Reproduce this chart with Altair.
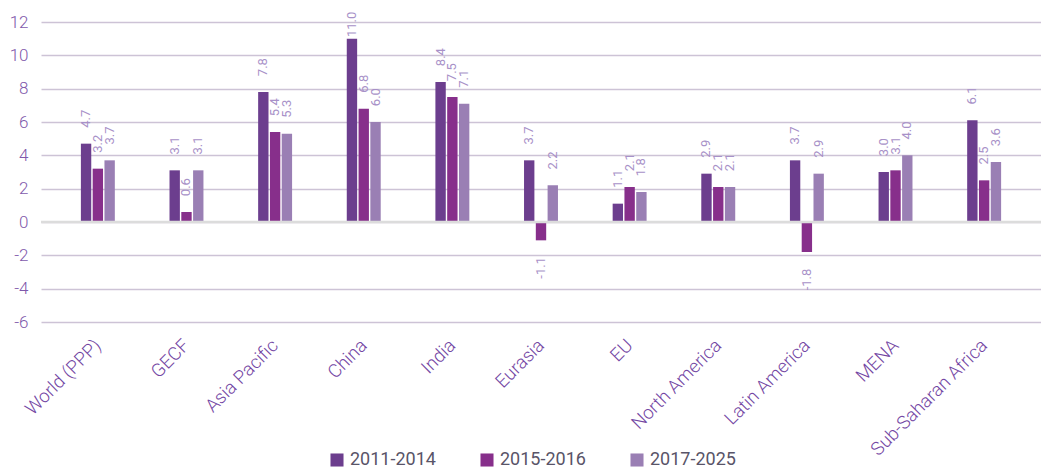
import altair as alt
import pandas as pd

categories = ["World (PPP)", "GECF", "Asia Pacific", "China", "India", "Eurasia",
              "EU", "North America", "Latin America", "MENA", "Sub-Saharan Africa"]
periods = ["2011-2014", "2015-2016", "2017-2025"]
v_2011_2014 = [4.7, 3.1, 7.8, 11.0, 8.4, 3.7, 1.1, 2.9, 3.7, 3.0, 6.1]
v_2015_2016 = [3.2, 0.6, 5.4, 6.8, 7.5, -1.1, 2.1, 2.1, -1.8, 3.1, 2.5]
v_2017_2025 = [3.7, 3.1, 5.3, 6.0, 7.1, 2.2, 1.8, 2.1, 2.9, 4.0, 3.6]
y_ticks = [-6, -4, -2, 0, 2, 4, 6, 8, 10, 12]
colors = ["#6c3e8e", "#872f8b", "#9a7fb4"]

rows = []
for p, vals in zip(periods, [v_2011_2014, v_2015_2016, v_2017_2025]):
    for c, v in zip(categories, vals):
        rows.append({"region": c, "period": p, "value": v, "label": f"{v:.1f}"})
df = pd.DataFrame(rows)

FONT = "Roboto"

x_axis = alt.Axis(title=None, labelAngle=-45, labelAlign="right",
                  labelBaseline="middle", labelPadding=20,
                  labelFontSize=18.5, labelFont=FONT, labelFontWeight=300,
                  labelColor="#7346a3",
                  ticks=False, domain=False, grid=False, labelLimit=300,
                  labelOverlap=False)
x_scale = alt.Scale(paddingInner=0.617, paddingOuter=0.45)
y_scale = alt.Scale(domain=[-6, 12], nice=False, zero=False)
y_axis = alt.Axis(title=None, values=y_ticks, grid=True, gridColor="#cdc3d6",
                  gridWidth=1.5, domain=False, ticks=False, labelPadding=13,
                  labelFontSize=17, labelFont=FONT, labelFontWeight=300,
                  labelColor="#7f59ab",
                  labelOverlap=False, labelExpr="'' + datum.value")
xoff = alt.XOffset("period:N", sort=periods, scale=alt.Scale(paddingInner=0.12, paddingOuter=0))

base = alt.Chart(df)

bars = base.mark_bar().encode(
    x=alt.X("region:N", sort=categories, scale=x_scale, axis=x_axis),
    xOffset=xoff,
    y=alt.Y("value:Q", scale=y_scale, axis=y_axis),
    color=alt.Color("period:N", sort=periods,
                    scale=alt.Scale(domain=periods, range=colors),
                    legend=alt.Legend(title=None, orient="none", direction="horizontal",
                                      legendX=287, legendY=429, padding=0,
                                      symbolType="square", symbolSize=170,
                                      symbolStrokeWidth=0, labelFontSize=18,
                                      labelFont=FONT, labelFontWeight=400,
                                      labelColor="#595468",
                                      labelOffset=4, columnPadding=42)),
)

zero = alt.Chart(pd.DataFrame({"value": [0]})).mark_rule(color="#dcdcdc", strokeWidth=2.5).encode(
    y=alt.Y("value:Q", scale=y_scale, axis=y_axis))

pos_labels = base.transform_filter("datum.value >= 0").transform_calculate(
    ly="min(datum.value + 0.95, 11.1)"
).mark_text(angle=270, align="left", baseline="middle", fontSize=13, font=FONT,
            fontWeight=400, color="#a891c8").encode(
    x=alt.X("region:N", sort=categories, scale=x_scale, axis=x_axis),
    xOffset=xoff,
    y=alt.Y("ly:Q", scale=y_scale, axis=y_axis),
    text="label:N",
)

neg_labels = base.transform_filter("datum.value < 0").transform_calculate(
    ly="datum.value - 1.0"
).mark_text(angle=270, align="right", baseline="middle", fontSize=13, font=FONT,
            fontWeight=400, color="#a891c8").encode(
    x=alt.X("region:N", sort=categories, scale=x_scale, axis=x_axis),
    xOffset=xoff,
    y=alt.Y("ly:Q", scale=y_scale, axis=y_axis),
    text="label:N",
)

chart = alt.layer(bars, zero, pos_labels, neg_labels).properties(
    width=1000, height=300,
    autosize=alt.AutoSizeParams(type="none"),
    padding={"left": 33, "top": 14, "right": 0, "bottom": 148},
).configure_view(stroke=None)

chart.save("out.html", embed_options={"renderer": "svg", "actions": False})
